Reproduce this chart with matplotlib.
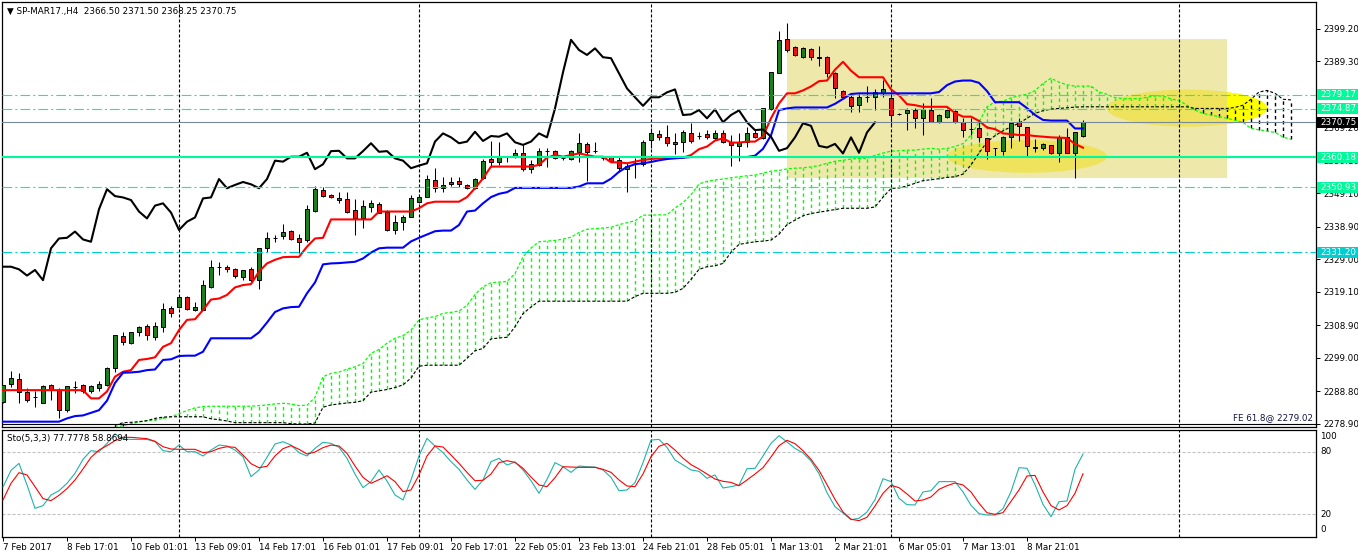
import matplotlib
matplotlib.use("Agg")
import matplotlib.pyplot as plt
from matplotlib.patches import Rectangle, Ellipse
from matplotlib import transforms
import numpy as np

plt.rcParams["font.family"] = ["DejaVu Sans"]
plt.rcParams["lines.scale_dashes"] = False

# --- Data (H4 bars) ---
opens = [2285.7, 2291.0, 2292.5, 2288.5, 2287.2, 2285.2, 2290.8, 2289.2, 2283.2, 2290.2,
         2290.8, 2289.0, 2290.0, 2290.8, 2295.8, 2305.7, 2303.7, 2307.0, 2308.7, 2305.5,
         2308.3, 2314.1, 2314.4, 2317.5, 2313.6, 2313.6, 2320.7, 2326.8, 2326.8, 2326.2,
         2323.8, 2326.1, 2322.7, 2332.6, 2335.6, 2336.0, 2337.8, 2335.4, 2334.9, 2343.9,
         2350.2, 2348.6, 2347.8, 2347.3, 2344.1, 2341.5, 2345.1, 2345.8, 2343.6, 2338.0,
         2340.5, 2342.0, 2346.6, 2348.1, 2353.2, 2350.9, 2351.9, 2353.0, 2351.7, 2350.7,
         2353.7, 2359.5, 2358.8, 2360.3, 2360.3, 2361.3, 2356.5, 2357.8, 2362.1, 2362.0,
         2359.8, 2359.6, 2361.6, 2364.1, 2362.0, 2359.8, 2360.3, 2359.3, 2356.6, 2358.3,
         2358.0, 2365.4, 2367.2, 2366.2, 2364.1, 2364.9, 2367.4, 2366.6, 2367.1, 2366.1,
         2367.4, 2364.7, 2363.6, 2364.9, 2367.4, 2365.9, 2374.7, 2385.7, 2396.2, 2393.8,
         2390.8, 2393.0, 2390.8, 2390.6, 2385.7, 2380.4, 2378.6, 2376.1, 2378.4, 2378.6,
         2379.8, 2378.1, 2373.2, 2373.5, 2374.5, 2372.2, 2374.5, 2371.0, 2372.5, 2374.3,
         2371.0, 2368.6, 2368.9, 2365.9, 2362.9, 2362.1, 2366.4, 2370.8, 2369.2, 2363.1,
         2362.9, 2363.9, 2361.3, 2366.2, 2361.3, 2366.5]
highs = [2290.8, 2295.0, 2294.5, 2289.8, 2289.0, 2290.8, 2291.1, 2289.8, 2290.5, 2292.0,
         2291.1, 2290.8, 2292.1, 2296.4, 2306.0, 2307.0, 2306.8, 2308.7, 2309.3, 2310.1,
         2315.6, 2314.8, 2317.9, 2317.9, 2316.2, 2322.7, 2328.8, 2328.3, 2327.3, 2326.5,
         2325.8, 2326.8, 2332.4, 2337.5, 2336.5, 2339.8, 2338.0, 2336.8, 2345.6, 2351.4,
         2351.2, 2348.9, 2349.7, 2349.7, 2347.3, 2347.1, 2347.1, 2346.6, 2344.1, 2342.6,
         2342.6, 2348.6, 2348.6, 2354.7, 2356.8, 2354.0, 2354.2, 2354.0, 2352.0, 2353.7,
         2359.6, 2365.1, 2364.9, 2360.5, 2362.7, 2363.9, 2359.3, 2362.9, 2362.9, 2362.3,
         2360.3, 2362.3, 2367.4, 2364.9, 2364.9, 2360.3, 2360.5, 2360.6, 2358.3, 2359.8,
         2365.4, 2368.9, 2368.4, 2370.0, 2367.4, 2368.4, 2370.5, 2367.9, 2368.4, 2368.4,
         2368.4, 2366.9, 2367.4, 2369.5, 2368.4, 2375.0, 2386.2, 2398.6, 2400.9, 2394.1,
         2393.6, 2393.3, 2394.1, 2391.1, 2386.2, 2380.6, 2379.3, 2379.3, 2381.8, 2380.9,
         2383.7, 2378.6, 2373.5, 2375.0, 2375.0, 2376.6, 2378.1, 2373.2, 2375.0, 2374.5,
         2372.0, 2372.0, 2371.5, 2366.1, 2363.1, 2366.7, 2371.0, 2372.0, 2369.5, 2365.7,
         2364.4, 2363.9, 2366.9, 2368.9, 2367.9, 2371.5]
lows = [2285.2, 2290.3, 2285.2, 2285.7, 2284.0, 2285.2, 2286.2, 2280.6, 2282.6, 2288.4,
        2288.4, 2288.4, 2289.0, 2290.5, 2294.8, 2303.0, 2303.3, 2305.8, 2304.5, 2304.5,
        2307.0, 2311.6, 2314.3, 2313.6, 2313.4, 2313.6, 2320.2, 2324.3, 2325.3, 2323.3,
        2322.7, 2322.2, 2319.9, 2331.4, 2334.4, 2335.1, 2334.9, 2331.1, 2334.4, 2343.6,
        2347.9, 2347.6, 2346.1, 2343.3, 2336.5, 2338.5, 2343.6, 2343.1, 2337.8, 2336.7,
        2338.0, 2342.0, 2346.1, 2348.1, 2349.4, 2349.7, 2351.4, 2351.2, 2350.6, 2350.4,
        2353.4, 2357.3, 2357.8, 2358.8, 2359.8, 2355.8, 2355.2, 2357.5, 2357.3, 2359.6,
        2359.3, 2359.3, 2358.8, 2353.0, 2361.3, 2359.3, 2358.9, 2355.7, 2349.5, 2353.7,
        2357.6, 2362.9, 2365.4, 2363.7, 2361.0, 2361.8, 2364.4, 2365.7, 2365.7, 2365.4,
        2364.4, 2357.6, 2359.1, 2363.4, 2365.9, 2365.7, 2374.5, 2385.7, 2392.3, 2391.1,
        2390.5, 2389.8, 2388.0, 2384.7, 2378.1, 2378.1, 2373.8, 2373.8, 2377.1, 2374.5,
        2378.6, 2370.0, 2372.9, 2368.4, 2368.9, 2366.9, 2370.8, 2370.5, 2372.0, 2370.5,
        2366.4, 2366.9, 2364.9, 2359.6, 2360.3, 2360.8, 2362.9, 2365.1, 2360.6, 2361.8,
        2362.3, 2361.0, 2358.8, 2361.3, 2353.9, 2366.25]
closes = [2290.8, 2292.8, 2288.7, 2286.2, 2287.2, 2290.5, 2289.2, 2283.2, 2290.5, 2290.2,
          2288.9, 2290.5, 2291.1, 2296.1, 2306.0, 2304.0, 2306.8, 2308.3, 2306.0, 2308.7,
          2313.8, 2312.6, 2317.7, 2313.8, 2314.5, 2321.1, 2326.8, 2326.8, 2326.0, 2324.1,
          2325.8, 2322.7, 2332.4, 2335.4, 2335.6, 2337.5, 2335.1, 2334.4, 2344.3, 2350.4,
          2348.3, 2347.9, 2347.1, 2343.6, 2341.5, 2345.4, 2346.1, 2343.3, 2338.0, 2340.5,
          2341.8, 2347.6, 2347.9, 2353.5, 2350.7, 2351.7, 2352.6, 2351.9, 2350.7, 2353.5,
          2359.1, 2358.8, 2360.3, 2360.3, 2361.5, 2356.5, 2358.0, 2362.0, 2362.1, 2359.8,
          2359.8, 2362.0, 2364.4, 2361.8, 2362.0, 2359.8, 2359.1, 2356.8, 2357.6, 2358.3,
          2364.9, 2367.4, 2366.2, 2364.4, 2364.9, 2367.9, 2365.1, 2366.6, 2366.4, 2367.4,
          2364.7, 2363.9, 2364.9, 2367.4, 2366.2, 2375.0, 2386.0, 2395.9, 2392.8, 2391.3,
          2393.3, 2390.6, 2390.3, 2385.7, 2381.1, 2378.4, 2375.8, 2378.4, 2378.4, 2379.9,
          2380.8, 2373.0, 2373.2, 2374.5, 2372.0, 2374.7, 2370.8, 2373.0, 2374.4, 2370.8,
          2368.4, 2368.6, 2366.4, 2362.1, 2362.9, 2366.2, 2370.5, 2369.7, 2363.6, 2363.1,
          2364.2, 2361.3, 2366.2, 2361.5, 2367.7, 2370.75]

tenkan = [2289.2] * 11 + [
    2286.7, 2286.7, 2288.8, 2293.3, 2294.8, 2295.3, 2298.4, 2298.7, 2299.2,
    2302.4, 2303.5, 2307.5, 2310.6, 2310.8, 2313.6, 2316.8, 2317.1, 2318.2, 2320.5,
    2321.2, 2321.5, 2325.3, 2327.8, 2328.9, 2329.7, 2329.8, 2329.8, 2332.9, 2335.4,
    2335.6, 2341.2, 2341.2, 2341.2, 2341.2, 2341.2, 2341.2, 2343.6, 2343.6, 2343.6,
    2343.6, 2343.6, 2344.6, 2346.1, 2346.6, 2346.6, 2346.6, 2346.6, 2348.0, 2350.7,
    2353.7, 2357.3, 2357.3, 2357.3, 2357.3, 2357.3, 2357.3, 2357.8, 2360.0, 2360.8,
    2360.3, 2360.8, 2361.3, 2360.8, 2360.3, 2360.3, 2358.6, 2358.6, 2358.3, 2358.8,
    2359.3, 2359.6, 2359.8, 2360.0, 2360.0, 2360.0, 2360.8, 2362.6, 2363.4, 2365.2,
    2365.9, 2364.6, 2364.6, 2364.9, 2364.9, 2366.5, 2372.0, 2376.5, 2379.6, 2379.6,
    2380.5, 2381.7, 2383.3, 2383.5, 2386.8, 2389.2, 2386.5, 2384.5, 2384.5, 2384.5,
    2384.5, 2380.8, 2379.0, 2376.3, 2376.0, 2375.5, 2375.5, 2375.5, 2375.5, 2373.6,
    2372.5, 2372.5, 2371.2, 2369.2, 2368.7, 2367.4, 2367.2, 2366.9, 2366.9, 2366.6,
    2366.4, 2366.2, 2366.1, 2366.0, 2364.2, 2363.05]
kijun = [2279.6] * 8 + [
    2280.6, 2281.3,
    2281.5, 2282.3, 2283.1, 2286.0, 2291.4, 2294.5, 2294.6, 2294.8, 2295.3, 2295.5,
    2298.4, 2298.6, 2299.6, 2299.7, 2299.7, 2300.9, 2305.0, 2305.0, 2305.0, 2305.0,
    2305.0, 2305.0, 2306.8, 2309.8, 2313.0, 2314.1, 2314.5, 2314.6, 2318.7, 2322.0,
    2327.5, 2327.8, 2327.9, 2328.1, 2328.3, 2329.3, 2331.1, 2332.4, 2332.6, 2332.6,
    2332.6, 2334.5, 2335.6, 2336.6, 2337.6, 2337.8, 2337.8, 2339.5, 2343.6, 2343.9,
    2346.1, 2348.0, 2349.0, 2349.5, 2350.8, 2350.8, 2350.8, 2350.8, 2350.8, 2350.8,
    2350.8, 2350.8, 2351.2, 2352.2, 2352.2, 2352.2, 2353.6, 2355.7, 2357.2, 2358.0,
    2358.3, 2358.7, 2359.2, 2359.6, 2359.8, 2360.0, 2360.2, 2360.2, 2360.2, 2360.2,
    2360.2, 2360.2, 2360.2, 2360.2, 2360.6, 2362.7, 2366.8, 2374.5, 2375.0, 2375.3,
    2375.3, 2375.3, 2375.3, 2375.3, 2376.4, 2377.9, 2379.4, 2379.6, 2379.6, 2379.6,
    2379.6, 2379.6, 2379.6, 2379.6, 2379.6, 2379.6, 2379.6, 2380.0, 2382.1, 2383.2,
    2383.5, 2383.5, 2382.8, 2380.3, 2376.9, 2376.9, 2376.9, 2376.9, 2375.1, 2373.0,
    2371.5, 2371.3, 2371.3, 2371.3, 2368.9, 2368.9]

# cloud spans start at bar 14 and run 26 bars past the last candle
span_start = 14
span_a = [2277.8, 2278.4, 2278.9, 2279.5, 2279.9, 2280.1, 2280.6, 2281.1, 2282.0, 2283.0,
          2283.8, 2284.2, 2284.3, 2284.3, 2284.3, 2284.3, 2284.3, 2284.3, 2284.5, 2284.7,
          2285.0, 2285.2, 2285.0, 2284.5, 2284.6, 2287.0, 2293.3, 2294.3, 2294.7, 2295.6,
          2296.3, 2297.3, 2300.4, 2301.6, 2303.5, 2305.0, 2305.8, 2307.5, 2310.6, 2311.2,
          2311.6, 2312.6, 2312.9, 2313.3, 2315.0, 2318.3, 2320.7, 2321.9, 2322.1, 2322.3,
          2324.7, 2329.8, 2332.5, 2334.4, 2334.6, 2334.8, 2335.2, 2335.8, 2337.2, 2338.2,
          2338.4, 2338.6, 2338.8, 2339.6, 2340.2, 2340.8, 2342.5, 2342.5, 2342.6, 2342.6,
          2344.7, 2346.3, 2348.7, 2352.0, 2352.8, 2353.2, 2353.5, 2353.9, 2354.2, 2354.5,
          2354.7, 2355.3, 2355.9, 2356.1, 2356.6, 2356.8, 2356.9, 2357.2, 2357.6, 2358.3,
          2358.9, 2359.2, 2359.6, 2359.8, 2359.8, 2360.7, 2361.4, 2362.0, 2362.1, 2362.3,
          2362.3, 2362.6, 2362.85, 2362.6, 2362.8, 2363.4, 2364.3, 2366.9, 2370.8, 2375.5,
          2377.0, 2377.2, 2378.2, 2378.9, 2379.3, 2380.4, 2382.6, 2384.2, 2383.0, 2382.2,
          2381.8, 2381.8, 2381.8, 2380.0, 2379.3, 2378.3, 2378.0, 2378.0, 2378.0, 2378.4,
          2378.8, 2378.8, 2377.9, 2377.4, 2376.0, 2374.5, 2373.5, 2373.0, 2372.5, 2372.0,
          2371.4, 2370.8, 2368.9, 2368.5, 2368.1, 2367.7, 2366.3, 2365.6]
span_b = [2278.5, 2279.3, 2279.4, 2279.6, 2279.9, 2280.6, 2281.0, 2281.1, 2281.1, 2281.1,
          2281.1, 2281.1, 2280.5, 2280.2, 2279.8, 2279.3, 2279.3, 2279.3, 2279.3, 2279.3,
          2279.3, 2279.3, 2279.0, 2278.9, 2278.9, 2279.2, 2284.0, 2284.7, 2285.0, 2285.3,
          2285.5, 2286.0, 2288.6, 2289.0, 2289.4, 2290.0, 2290.8, 2292.9, 2296.5, 2296.8,
          2296.8, 2296.8, 2296.8, 2296.8, 2298.9, 2301.2, 2301.9, 2304.8, 2305.1, 2305.3,
          2308.5, 2312.5, 2314.5, 2316.3, 2316.3, 2316.3, 2316.3, 2316.3, 2316.3, 2316.3,
          2316.3, 2316.3, 2316.3, 2316.3, 2316.3, 2317.7, 2318.7, 2318.7, 2318.7, 2318.7,
          2319.0, 2320.2, 2322.9, 2326.0, 2326.8, 2327.1, 2327.8, 2331.2, 2333.6, 2334.0,
          2334.4, 2334.6, 2334.9, 2336.7, 2339.6, 2341.0, 2342.3, 2343.0, 2343.4, 2343.8,
          2344.2, 2344.6, 2344.6, 2344.6, 2344.6, 2345.0, 2348.0, 2350.6, 2350.8, 2351.4,
          2352.2, 2353.0, 2353.3, 2353.6, 2354.0, 2354.2, 2355.0, 2357.8, 2361.4, 2364.8,
          2366.7, 2368.2, 2369.4, 2370.5, 2372.0, 2373.5, 2374.3, 2374.8, 2375.0, 2375.2,
          2375.4, 2375.5, 2375.5, 2375.5, 2375.5, 2375.5, 2375.5, 2375.5, 2375.5, 2375.5,
          2375.5, 2375.5, 2375.5, 2375.5, 2375.5, 2375.0, 2375.0, 2375.0, 2375.0, 2375.0,
          2375.3, 2376.0, 2377.8, 2380.0, 2380.5, 2379.6, 2377.8, 2377.6]

sto_k = [46.2, 62.1, 68.8, 48.1, 25.7, 28.3, 38.5, 42.6, 49.7, 59.3,
         72.7, 81.0, 80.0, 88.0, 97.0, 92.2, 91.8, 91.8, 91.8, 89.6,
         81.0, 80.0, 86.4, 80.0, 80.0, 75.9, 81.6, 86.4, 85.5, 81.6,
         75.2, 56.1, 62.5, 74.6, 87.4, 89.6, 86.4, 79.1, 75.9, 83.2,
         89.0, 88.0, 84.2, 73.6, 58.6, 45.5, 51.3, 62.5, 51.9, 38.5,
         33.7, 52.9, 75.9, 92.8, 85.5, 79.1, 70.5, 63.1, 52.9, 43.9,
         52.9, 70.5, 73.6, 67.2, 70.1, 62.5, 52.2, 40.1, 53.5, 69.5,
         65.6, 60.2, 66.3, 65.6, 65.3, 62.5, 55.4, 42.6, 43.3, 50.3,
         69.5, 91.2, 91.8, 84.2, 72.0, 67.4, 62.5, 61.2, 54.5, 57.7,
         45.2, 46.5, 48.1, 63.7, 64.1, 75.9, 88.0, 95.4, 89.3, 83.2,
         78.8, 71.1, 58.9, 40.7, 27.3, 21.2, 14.8, 16.1, 22.2, 34.0,
         54.1, 51.3, 35.3, 29.2, 28.9, 41.4, 42.6, 51.3, 51.3, 51.3,
         41.4, 28.6, 20.6, 19.3, 19.3, 25.4, 41.7, 64.7, 64.1, 48.4,
         29.5, 17.7, 32.1, 32.7, 63.1, 77.78]
sto_d = [33.7, 49.7, 59.9, 57.7, 46.5, 35.0, 33.1, 38.2, 44.6, 52.9,
         63.4, 74.6, 81.6, 85.8, 90.6, 93.8, 93.8, 93.1, 92.5, 90.0,
         84.8, 82.6, 82.3, 82.3, 82.3, 79.1, 80.0, 83.2, 84.8, 84.2,
         76.8, 68.5, 64.7, 66.0, 75.9, 82.9, 85.8, 82.3, 77.8, 79.7,
         83.9, 86.4, 85.5, 78.4, 66.3, 55.4, 49.7, 53.2, 57.0, 51.3,
         41.7, 43.3, 57.7, 75.9, 85.5, 84.5, 76.8, 68.8, 60.2, 52.2,
         52.6, 58.6, 69.5, 71.4, 69.8, 64.1, 55.7, 48.1, 46.5, 55.1,
         65.6, 65.3, 65.0, 65.0, 65.0, 63.1, 60.2, 52.9, 47.1, 46.5,
         58.6, 75.2, 85.1, 88.0, 81.6, 73.8, 67.6, 63.4, 58.6, 53.8,
         51.6, 50.6, 47.4, 52.9, 58.6, 64.7, 74.9, 85.8, 90.9, 87.7,
         81.0, 72.7, 62.1, 48.4, 34.3, 22.2, 15.2, 13.9, 17.1, 27.9,
         40.1, 47.8, 45.5, 39.5, 32.7, 33.7, 36.6, 43.9, 47.4, 50.0,
         48.1, 41.4, 30.5, 21.5, 19.9, 21.5, 32.4, 43.3, 56.7, 57.3,
         41.4, 28.3, 24.1, 28.3, 40.1, 58.87]

time_labels = ["7 Feb 2017", "8 Feb 17:01", "10 Feb 01:01", "13 Feb 09:01", "14 Feb 17:01",
               "16 Feb 01:01", "17 Feb 09:01", "20 Feb 17:01", "22 Feb 05:01", "23 Feb 13:01",
               "24 Feb 21:01", "28 Feb 05:01", "1 Mar 13:01", "2 Mar 21:01", "6 Mar 05:01",
               "7 Mar 13:01", "8 Mar 21:01"]
# 2379.20 tick sits fully under the 2379.17 marker, so it carries no label
price_ticks = [2399.20, 2389.30, 2379.20, 2369.20, 2359.10, 2349.10, 2338.90,
               2329.00, 2319.10, 2308.90, 2299.00, 2288.80, 2278.90]
hidden_ticks = [2379.20]
sto_ticks = [100, 80, 20, 0]
grid_bars = [22, 52, 81, 111, 147]
levels = [2379.17, 2374.87, 2360.18, 2350.93, 2331.20]
last_price = 2370.75
fe_level = 2279.02
chikou_shift = 26

# --- Figure / panels (pixel layout of the terminal window) ---
W, H = 1358, 557
fig = plt.figure(figsize=(W / 100, H / 100), dpi=100)


def fx(px):
    return px / W


def fy(py):
    return 1 - py / H


ax = fig.add_axes([fx(2), fy(426.7), fx(1316) - fx(2), fy(2) - fy(426.7)])
ax2 = fig.add_axes([fx(2), fy(537), fx(1316) - fx(2), fy(429.5) - fy(537)])
for a in (ax, ax2):
    a.set_xlim(-0.125, 164.125)
    for s in a.spines.values():
        s.set_linewidth(0.9)
ax.set_ylim(2278.07, 2407.42)
ax2.set_ylim(-1.8, 101.3)

FS = 6.3
dot = (0, (2.2, 1.4))
hatch_dash = (0, (2.5, 2.2))
dashdot = (0, (7.0, 2.2, 1.5, 2.2))
KUMO_GREEN = "#00FF00"

n = len(closes)
x = np.arange(n)
o = np.array(opens)
c = np.array(closes)

# --- background objects: box and highlight ellipses ---
ax.add_patch(Rectangle((98, 2353.9), 55, 42.25, fc="#EEE8AA", ec="none", zorder=0.2))
ax.add_patch(Ellipse((128, 2360.4), 20, 10.0, fc="#EFE35E", ec="none", zorder=0.3))
ax.add_patch(Ellipse((148, 2375.1), 20, 11.3, fc="#EFE35E", ec="none", zorder=0.3))
bright = Ellipse((148, 2375.1), 20, 11.3, fc="#FFFF00", ec="none", zorder=0.35)
ax.add_patch(bright)
bright.set_clip_path(Rectangle((153, 2300), 20, 150, transform=ax.transData))

# --- grid separators ---
for a in (ax, ax2):
    for gb in grid_bars:
        a.axvline(gb, color="black", ls=dot, lw=0.8, zorder=1.8)

# --- Ichimoku cloud (vertical hatch per bar, coloured by the upper span) ---
xs = np.arange(span_start, span_start + len(span_a))
sa = np.array(span_a)
sb = np.array(span_b)
up = sa >= sb
lo = np.minimum(sa, sb)
hi = np.maximum(sa, sb)
ax.vlines(xs[up], lo[up], hi[up], colors=KUMO_GREEN, linestyles=[hatch_dash], lw=1.0, zorder=1.2)
ax.vlines(xs[~up], lo[~up], hi[~up], colors="black", linestyles=[hatch_dash], lw=1.0, zorder=1.2)
ax.plot(xs, sa, color=KUMO_GREEN, lw=0.9, ls=dot, zorder=1.5)
ax.plot(xs, sb, color="black", lw=0.8, ls=dot, zorder=1.5)

# --- candles ---
ax.vlines(x, lows, highs, color="black", lw=0.75, zorder=3)
body_low = np.minimum(o, c)
body_h = np.maximum(np.abs(c - o), 0.02)
body_col = ["#1A801A" if cc > oo else ("#EE1111" if cc < oo else "black") for oo, cc in zip(o, c)]
ax.bar(x, body_h, bottom=body_low, width=0.55, color=body_col, edgecolor="black",
       linewidth=0.7, zorder=4)

# --- Ichimoku lines ---
ax.plot(x, tenkan, color="#FF0000", lw=1.5, zorder=5)
ax.plot(x, kijun, color="#0000FF", lw=1.5, zorder=5)
ax.plot(x[:n - chikou_shift], c[chikou_shift:], color="black", lw=1.5, zorder=5)

# --- horizontal levels ---
lvl_colors = ["#00FA9A", "#00FA9A", "#00FA9A", "#00FA9A", "#00CED1"]
lvl_styles = [dashdot, dashdot, "-", dashdot, dashdot]
lvl_widths = [0.8, 0.8, 1.5, 0.8, 0.8]
for v, col, ls, lw in zip(levels, lvl_colors, lvl_styles, lvl_widths):
    ax.axhline(v, color=col, ls=ls, lw=lw, zorder=6)
ax.axhline(last_price, color="#778899", lw=0.8, zorder=6)
ax.axhline(fe_level, color="black", lw=0.8, zorder=6)
fig.text(fx(1313), fy(417.5), "FE 61.8@ 2279.02", ha="right", va="center",
         fontsize=FS, color="#141440")

# --- price axis ---
ax.yaxis.tick_right()
ax.set_yticks(price_ticks)
ax.set_yticklabels(["" if v in hidden_ticks else f"{v:.2f}" for v in price_ticks])
ax.tick_params(axis="y", length=3, width=0.7, pad=2, labelsize=FS)
ax.set_xticks([])

blend = transforms.blended_transform_factory(fig.transFigure, ax.transData)
box_h = 11 / 3.2834
box_cols = lvl_colors + ["black"]
for v, col in zip(levels + [last_price], box_cols):
    ax.add_patch(Rectangle((fx(1317), v - box_h / 2), fx(1358) - fx(1317), box_h,
                           transform=blend, fc=col, ec="none", clip_on=False, zorder=10))
    ax.text(fx(1320), v, f"{v:.2f}", transform=blend, color="white", fontsize=FS,
            va="center", ha="left", clip_on=False, zorder=11)

# --- header ---
fig.text(fx(7), fy(11), "\u25bc SP-MAR17.,H4  2366.50 2371.50 2368.25 2370.75",
         fontsize=FS, va="center", ha="left")

# --- stochastic panel ---
ax2.plot(x, sto_k, color="#20B2AA", lw=0.8, zorder=4)
ax2.plot(x, sto_d, color="#FF0000", lw=0.8, zorder=5)
for lv in (20, 80):
    ax2.axhline(lv, color="#C0C0C0", ls=dot, lw=0.8, zorder=1)
fig.text(fx(7), fy(438), "Sto(5,3,3) 77.7778 58.8694", fontsize=FS, va="center", ha="left")
ax2.set_yticks([])
sblend = transforms.blended_transform_factory(fig.transFigure, ax2.transData)
sto_shift = {100: -5.0, 0: 5.5}
for v in sto_ticks:
    ax2.text(fx(1320), v + sto_shift.get(v, 0), str(v), transform=sblend, fontsize=FS,
             va="center", ha="left", clip_on=False)

ax2.set_xticks(list(range(0, 8 * len(time_labels), 8)))
ax2.set_xticklabels(time_labels)
ax2.tick_params(axis="x", length=3, width=0.7, pad=1.5, labelsize=FS)
for t in ax2.get_xticklabels():
    t.set_ha("left")

fig.savefig("out.png", dpi=100)
